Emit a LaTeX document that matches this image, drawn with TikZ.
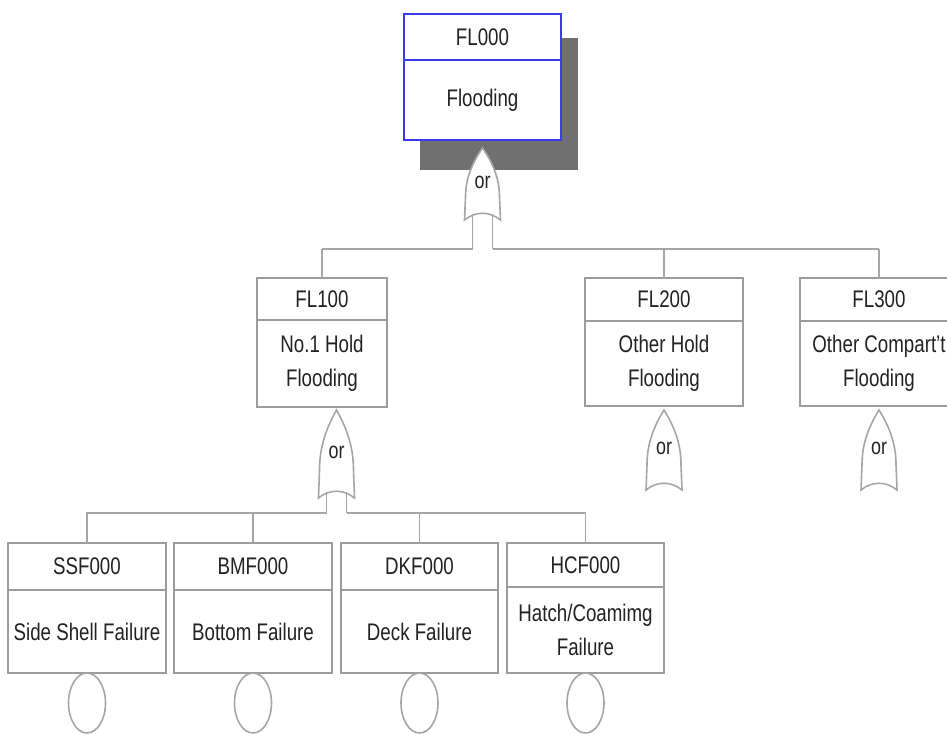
\documentclass[tikz,border=0pt]{standalone}
\usepackage{fontspec}
\setmainfont[FakeStretch=0.78]{Liberation Sans}
\usetikzlibrary{shapes.geometric}
\definecolor{linegray}{HTML}{A6A6A6}
\definecolor{boxgray}{HTML}{9C9C9C}
\definecolor{txt}{HTML}{222222}
\definecolor{topblue}{HTML}{3A3AF0}
\definecolor{shadowgray}{HTML}{707070}
\tikzset{
  part/.style={draw=boxgray, line width=1.8pt, fill=white, inner sep=0pt, outer sep=0pt,
    align=center, text=txt, font=\fontsize{24}{34}\selectfont},
  toppart/.style={part, draw=topblue, line width=2.2pt},
  conn/.style={draw=linegray, line width=1.8pt},
  gate/.style={draw=linegray, line width=1.6pt, fill=white},
  gatelabel/.style={text=txt, font=\fontsize{23}{24}\selectfont, inner sep=0pt},
  basic/.style={ellipse, draw=linegray, line width=1.6pt, minimum width=37pt, minimum height=60pt, inner sep=0pt, outer sep=0pt, anchor=north},
}
% #1 name, #2 cx, #3 apex y, #4 height
\newcommand\mygate[4]{%
  \path[gate] (#2,#3) .. controls ({#2+10},{#3+0.2*#4}) and ({#2+17},{#3+0.42*#4}) .. ({#2+17},{#3+0.68*#4})
    -- ({#2+18},{#3+#4}) .. controls ({#2+7},{#3+#4-9}) and ({#2-7},{#3+#4-9}) .. ({#2-18},{#3+#4})
    -- ({#2-17},{#3+0.68*#4}) .. controls ({#2-17},{#3+0.42*#4}) and ({#2-10},{#3+0.2*#4}) .. (#2,#3) -- cycle;
  \coordinate (#1apex) at (#2,#3);
  \coordinate (#1l) at ({#2-10},{#3+#4-6});
  \coordinate (#1r) at ({#2+10},{#3+#4-6});
  \node[gatelabel] (#1lab) at (#2,{#3+0.48*#4}) {or};
}
\begin{document}
\begin{tikzpicture}[x=1pt,y=-1pt]
\useasboundingbox (0,0) rectangle (947,733);
\fill[white] (0,0) rectangle (947,733);
\clip (0,0) rectangle (947,733);

% top event with shadow
\fill[shadowgray] (420,38) rectangle (578,170);
\node[toppart, minimum width=157pt, minimum height=46pt, anchor=north] (fl000id) at (482.5,14) {FL000};
\node[toppart, minimum width=157pt, minimum height=80pt, anchor=north] (fl000) at (fl000id.south) {Flooding};

% top gate
\mygate{g0}{482.5}{148}{72}
\coordinate (b1l) at (322,249);
\coordinate (b1r) at (879,249);
\coordinate (g0bl) at (472.5,249);
\coordinate (g0br) at (492.5,249);
\draw[conn] (g0l) -- (g0bl);
\draw[conn] (g0r) -- (g0br);
\draw[conn] (g0bl) -- (b1l);
\draw[conn] (g0br) -- (b1r);

% second level
\node[part, minimum width=130pt, minimum height=42pt, anchor=north] (fl100id) at (322,278) {FL100};
\node[part, minimum width=130pt, minimum height=87pt, anchor=north] (fl100) at (fl100id.south) {No.1 Hold\\Flooding};
\node[part, minimum width=158pt, minimum height=43pt, anchor=north] (fl200id) at (664,278) {FL200};
\node[part, minimum width=158pt, minimum height=85pt, anchor=north] (fl200) at (fl200id.south) {Other Hold\\Flooding};
\node[part, minimum width=158pt, minimum height=43pt, anchor=north] (fl300id) at (879,278) {FL300};
\node[part, minimum width=158pt, minimum height=85pt, anchor=north] (fl300) at (fl300id.south) {Other Compart't\\Flooding};

\draw[conn] (b1l) -- (fl100id.north);
\draw[conn] (fl200id.north |- b1l) -- (fl200id.north);
\draw[conn] (b1r) -- (fl300id.north);

% second level gates
\mygate{g1}{336.5}{410}{88}
\mygate{g2}{664}{410}{80}
\mygate{g3}{879}{410}{80}

\coordinate (b2l) at (86,513);
\coordinate (b2r) at (586,513);
\coordinate (g1bl) at (326.5,513);
\coordinate (g1br) at (346.5,513);
\draw[conn] (g1l) -- (g1bl);
\draw[conn] (g1r) -- (g1br);
\draw[conn] (g1bl) -- (b2l);
\draw[conn] (g1br) -- (b2r);

% bottom level
\node[part, minimum width=158pt, minimum height=47pt, anchor=north] (ssfid) at (87,543) {SSF000};
\node[part, minimum width=158pt, minimum height=83pt, anchor=north] (ssf) at (ssfid.south) {Side Shell Failure};
\node[part, minimum width=158pt, minimum height=47pt, anchor=north] (bmfid) at (253,543) {BMF000};
\node[part, minimum width=158pt, minimum height=83pt, anchor=north] (bmf) at (bmfid.south) {Bottom Failure};
\node[part, minimum width=157pt, minimum height=47pt, anchor=north] (dkfid) at (419.5,543) {DKF000};
\node[part, minimum width=157pt, minimum height=83pt, anchor=north] (dkf) at (dkfid.south) {Deck Failure};
\node[part, minimum width=157pt, minimum height=44pt, anchor=north] (hcfid) at (585.5,543) {HCF000};
\node[part, minimum width=157pt, minimum height=86pt, anchor=north] (hcf) at (hcfid.south) {Hatch/Coamimg\\Failure};

\draw[conn] (ssfid.north |- b2l) -- (ssfid.north);
\draw[conn] (bmfid.north |- b2l) -- (bmfid.north);
\draw[conn] (dkfid.north |- b2l) -- (dkfid.north);
\draw[conn] (hcfid.north |- b2l) -- (hcfid.north);

% basic events
\node[basic] (e1) at (ssf.south) {};
\node[basic] (e2) at (bmf.south) {};
\node[basic] (e3) at (dkf.south) {};
\node[basic] (e4) at (hcf.south) {};
\end{tikzpicture}
\end{document}
